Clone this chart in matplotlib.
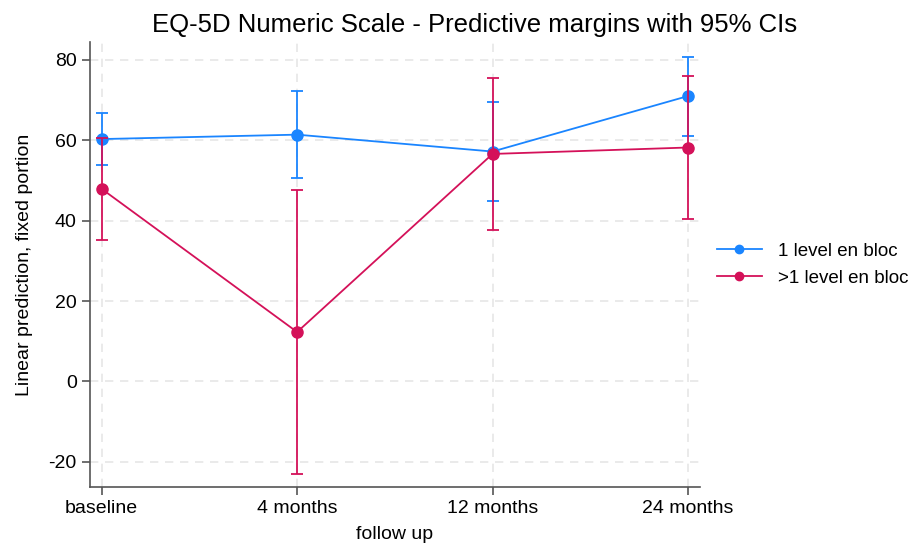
import numpy as np
import matplotlib.pyplot as plt

plt.rcParams['font.family'] = ['Liberation Sans', 'DejaVu Sans']
plt.rcParams['axes.unicode_minus'] = False

# data
visits = ["baseline", "4 months", "12 months", "24 months"]
series = ["1 level en bloc", ">1 level en bloc"]
margin_one = [60.3, 61.4, 57.2, 71.0]
lo_one = [53.9, 50.6, 45.0, 61.1]
hi_one = [66.9, 72.3, 69.4, 80.7]
margin_multi = [47.9, 12.3, 56.6, 58.2]
lo_multi = [35.2, -23.0, 37.8, 40.3]
hi_multi = [60.6, 47.6, 75.4, 76.1]
yticks = [-20, 0, 20, 40, 60, 80]

colors = ["#1a85ff", "#d41159"]

fig = plt.figure(figsize=(9.21, 5.48), dpi=100)
ax = fig.add_axes([0.0977, 0.111, 0.662, 0.812])

x = np.arange(len(visits))
for i, (m, lo, hi) in enumerate([(margin_one, lo_one, hi_one),
                                  (margin_multi, lo_multi, hi_multi)]):
    m = np.array(m)
    err = [m - np.array(lo), np.array(hi) - m]
    ax.errorbar(x, m, yerr=err, fmt="none", ecolor=colors[i],
                elinewidth=1.3, capsize=4, capthick=1.3, zorder=2 + i)
    ax.plot(x, m, color=colors[i], lw=1.3, marker="o", ms=8,
            label=series[i], zorder=3 + i)

ax.set_xlim(-0.06, 3.06)
ax.set_ylim(-26.3, 84.4)
ax.set_xticks(x)
ax.set_xticklabels(visits)
ax.set_yticks(yticks)

ax.grid(True, color="#e6e6e6", linestyle=(0, (5, 4)), lw=1.2)
ax.set_axisbelow(True)
for s in ["top", "right"]:
    ax.spines[s].set_visible(False)
for s in ["left", "bottom"]:
    ax.spines[s].set_color("#555555")
    ax.spines[s].set_linewidth(1.2)
ax.tick_params(colors="#555555", labelcolor="black", labelsize=14,
               length=6, width=1.2)

ax.set_xlabel("follow up", fontsize=14, labelpad=6)
ax.set_ylabel("Linear prediction, fixed portion", fontsize=14, labelpad=11)

# title is centred over the whole graph region (plot + legend)
fig.text(0.515, 0.954, "EQ-5D Numeric Scale - Predictive margins with 95% CIs",
         fontsize=18.5, ha="center", va="center")

ax.legend(loc="center left", bbox_to_anchor=(1.0, 0.5), frameon=False,
          fontsize=13.5, handlelength=2.4, handletextpad=0.9,
          labelspacing=0.55, markerscale=0.75)

fig.savefig("out.png", dpi=100)
